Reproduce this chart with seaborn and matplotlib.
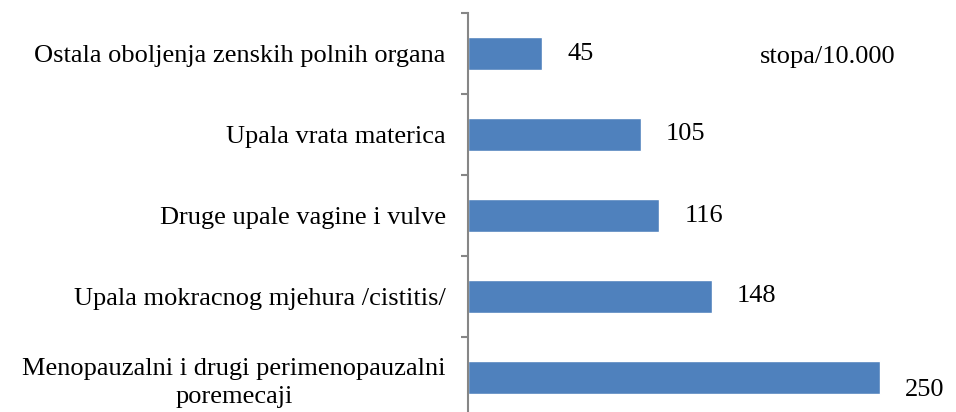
import matplotlib
matplotlib.use("Agg")
import matplotlib.pyplot as plt
import seaborn as sns

# Data
categories = [
    "Ostala oboljenja zenskih polnih organa",
    "Upala vrata materica",
    "Druge upale vagine i vulve",
    "Upala mokracnog mjehura /cistitis/",
    "Menopauzalni i drugi perimenopauzalni\nporemecaji",
]
values = [45, 105, 116, 148, 250]
unit_note = "stopa/10.000"

sns.set_style("white")
plt.rcParams["font.family"] = ["Liberation Serif", "DejaVu Serif"]
plt.rcParams["text.color"] = "black"

fig = plt.figure(figsize=(9.56, 4.12), dpi=100)
ax = fig.add_axes([468 / 956, -6 / 412, 0.50, 405 / 412])

sns.barplot(x=values, y=categories, color="#4F81BD", width=0.4,
            saturation=1, ax=ax, orient="h")

ax.set_xlim(0, 290)
ax.set_ylim(4.5, -0.5)
ax.set_xlabel("")
ax.set_ylabel("")

# Spines: only the left axis line
for side in ["top", "right", "bottom"]:
    ax.spines[side].set_visible(False)
ax.spines["left"].set_color("#868686")
ax.spines["left"].set_linewidth(1.5)
ax.spines["left"].set_clip_on(False)

ax.set_xticks([])
ax.tick_params(axis="y", which="major", left=True, length=0, pad=16,
               labelsize=19, labelcolor="black")
ax.set_yticks([-0.5, 0.5, 1.5, 2.5, 3.5], minor=True)
ax.tick_params(axis="y", which="minor", left=True, length=5, width=1.5,
               color="#868686", direction="out")
for lbl in ax.get_yticklabels():
    lbl.set_multialignment("center")
    lbl.set_linespacing(1.35)

# Value labels
for i, (patch, v) in enumerate(zip(ax.patches, values)):
    dy = -9 if i == len(values) - 1 else 0
    ax.annotate(str(v), (patch.get_width(), patch.get_y() + patch.get_height() / 2),
                xytext=(18, dy), textcoords="offset points", color="black",
                ha="left", va="center", fontsize=19, annotation_clip=False)

fig.text(760 / 956, 1 - 57 / 412, unit_note, fontsize=19, color="black",
         ha="left", va="center")

fig.savefig("out.png", dpi=100)
